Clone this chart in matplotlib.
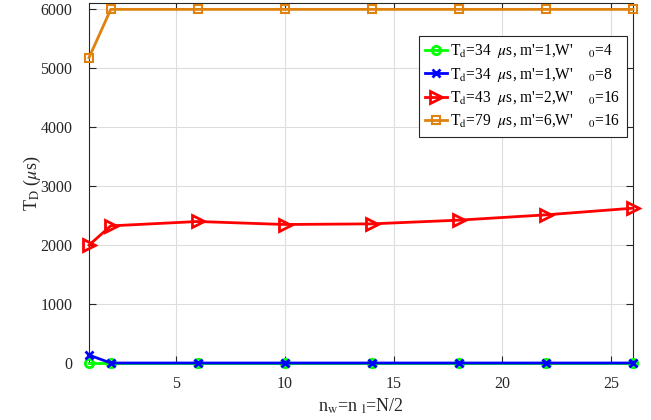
import matplotlib
matplotlib.use("Agg")
import matplotlib.pyplot as plt

plt.rcParams['font.family'] = ['Liberation Serif', 'DejaVu Serif']
plt.rcParams['mathtext.fontset'] = 'stix'

x = [1, 2, 6, 10, 14, 18, 22, 26]
green_vals = [0, 0, 0, 0, 0, 0, 0, 0]
blue_vals = [135, 0, 0, 0, 0, 0, 0, 0]
red_vals = [2000, 2327, 2401, 2350, 2361, 2424, 2514, 2627]
orange_vals = [5180, 6000, 6000, 6000, 6000, 6000, 6000, 6000]

labels = [
    r"T$_{\rm d}$=34  $\mu$s, m'=1,W'    $_{0}$=4",
    r"T$_{\rm d}$=34  $\mu$s, m'=1,W'    $_{0}$=8",
    r"T$_{\rm d}$=43  $\mu$s, m'=2,W'    $_{0}$=16",
    r"T$_{\rm d}$=79  $\mu$s, m'=6,W'    $_{0}$=16",
]
xticks = [5, 10, 15, 20, 25]
yticks = [0, 1000, 2000, 3000, 4000, 5000, 6000]

fig = plt.figure(figsize=(6.51, 4.2), dpi=100)
ax = fig.add_axes([0.1367, 0.1357, 0.8357, 0.856])

ax.plot(x, green_vals, color='#00ff00', lw=2, marker='o', ms=6, mfc='none', mew=2,
        label=labels[0], clip_on=False, zorder=3)
ax.plot(x, blue_vals, color='#0000ff', lw=2, marker='x', ms=6, mew=2,
        label=labels[1], clip_on=False, zorder=4)
ax.plot(x, red_vals, color='#ff0000', lw=2, marker='>', ms=8, mfc='none', mew=2,
        label=labels[2], clip_on=False, zorder=3)
ax.plot(x, orange_vals, color='#e0820f', lw=2, marker='s', ms=6, mfc='none', mew=1.5,
        label=labels[3], clip_on=False, zorder=3)

ax.set_xlim(1, 26)
ax.set_ylim(0, 6100)
ax.set_xticks(xticks)
ax.set_yticks(yticks)
ax.grid(True, color='#dddddd', lw=0.8)
ax.set_axisbelow(True)
ax.tick_params(direction='in', top=True, right=True, labelsize=11.5, length=5,
               colors='#262626')
ax.tick_params(axis='y', pad=12)
ax.tick_params(axis='x', pad=9)
for s in ax.spines.values():
    s.set_color('#262626')
    s.set_linewidth(0.8)

ax.set_xlabel(r"n$_{\rm w}$=n $_{\rm l}$=N/2", fontsize=13, color='#262626', labelpad=4)
ax.set_ylabel(r"T$_{\rm D}$ ($\mu$s)", fontsize=13, color='#262626', labelpad=-2)

leg = ax.legend(loc='upper right', bbox_to_anchor=(0.988, 0.91), fontsize=11.2,
                frameon=True, fancybox=False, edgecolor='#262626', framealpha=1,
                handlelength=1.4, handletextpad=0.2, borderpad=0.4, labelspacing=0.35,
                borderaxespad=0)
leg.get_frame().set_linewidth(0.8)

fig.savefig('out.png', dpi=100)
